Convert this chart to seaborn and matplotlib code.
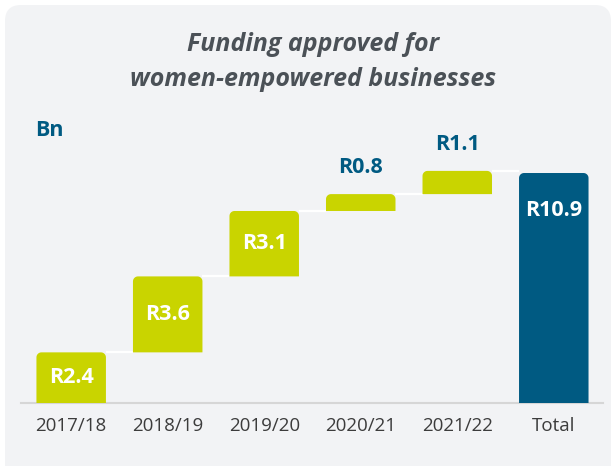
import numpy as np
import pandas as pd
import seaborn as sns
from matplotlib import pyplot as plt
from matplotlib.patches import FancyBboxPatch, Polygon
from matplotlib.transforms import IdentityTransform

# data (R billion)
periods = ['2017/18', '2018/19', '2019/20', '2020/21', '2021/22', 'Total']
amounts = [2.4, 3.6, 3.1, 0.8, 1.1, 10.9]
labels = ['R2.4', 'R3.6', 'R3.1', 'R0.8', 'R1.1', 'R10.9']

lime = '#c9d400'
blue = '#005a82'
panel = '#f2f3f5'

# waterfall bottoms: running total for the yearly steps, zero for the total
steps = np.array(amounts[:-1])
bottoms = list(np.concatenate([[0], np.cumsum(steps)[:-1]])) + [0]
colors = [lime] * 5 + [blue]

sns.set_style('white')
plt.rcParams['font.family'] = ['Open Sans', 'DejaVu Sans']

fig = plt.figure(figsize=(6.13, 4.66), dpi=100)
fig.patch.set_facecolor('white')
# rounded grey card behind everything
card = FancyBboxPatch((5, -60), 606, 521, boxstyle='round,pad=0,rounding_size=16',
                      transform=IdentityTransform(), facecolor=panel, edgecolor='none', zorder=-10)
fig.add_artist(card)

ax = fig.add_axes([21 / 613, 63 / 466, 582 / 613, 283 / 466])
ax.set_facecolor('none')

df = pd.DataFrame({'period': periods, 'amount': amounts})
sns.barplot(data=df, x='period', y='amount', bottom=bottoms, width=0.72,
            color=lime, errorbar=None, ax=ax, zorder=3)

ax.set_xlim(-0.52, 5.51)
ax.set_ylim(0, 283 / 21.1)

# swap the square bars for ones with rounded top corners
px_x = 582 / (5.51 + 0.52)   # pixels per x unit
px_y = 21.1                  # pixels per y unit
rx, ry = 5 / px_x, 5 / px_y
t = np.linspace(0, np.pi / 2, 10)
for patch, c in zip(list(ax.patches), colors):
    x0, y0 = patch.get_x(), patch.get_y()
    w, h = patch.get_width(), patch.get_height()
    patch.set_visible(False)
    x1, y1 = x0 + w, y0 + h
    right = np.column_stack([x1 - rx + rx * np.cos(t), y1 - ry + ry * np.sin(t)])
    left = np.column_stack([x0 + rx - rx * np.cos(t[::-1]), y1 - ry + ry * np.sin(t[::-1])])
    pts = np.vstack([[x0, y0], [x1, y0], right, left])
    ax.add_patch(Polygon(pts, closed=True, facecolor=c, edgecolor='none', zorder=3))

# white connectors between the steps
tops = [b + a for b, a in zip(bottoms, amounts)]
for i in range(5):
    ax.hlines(tops[i], i + 0.36, i + 1 - 0.36, color='white', lw=1.6, zorder=2)

# value labels
for i, (lab, b, a) in enumerate(zip(labels, bottoms, amounts)):
    if i < 3:
        ax.text(i, b + a / 2, lab, ha='center', va='center', color='white',
                fontsize=15.5, fontweight='bold', zorder=5)
    elif i == 5:
        ax.text(i, a - 1.8, lab, ha='center', va='center', color='white',
                fontsize=15.5, fontweight='bold', zorder=5)
    else:
        ax.text(i, b + a + 1.25, lab, ha='center', va='center', color=blue,
                fontsize=15.5, fontweight='bold', zorder=5)

for s in ['top', 'right', 'left']:
    ax.spines[s].set_visible(False)
ax.spines['bottom'].set_color('#d6d6d6')
ax.spines['bottom'].set_linewidth(1.5)
ax.set_yticks([])
ax.set_xlabel('')
ax.set_ylabel('')
ax.tick_params(axis='x', length=0, pad=10, labelsize=13.5, labelcolor='#3c3c3c')

fig.text(313 / 613, 1 - 62 / 466, 'Funding approved for\nwomen-empowered businesses',
         ha='center', va='center', fontsize=18, fontstyle='italic', fontweight='bold',
         color='#4b5157', linespacing=1.5)
fig.text(35 / 613, 1 - 131 / 466, 'Bn', ha='left', va='center', fontsize=15.5,
         fontweight='bold', color=blue)

fig.savefig('out.png', dpi=100, facecolor='white')
